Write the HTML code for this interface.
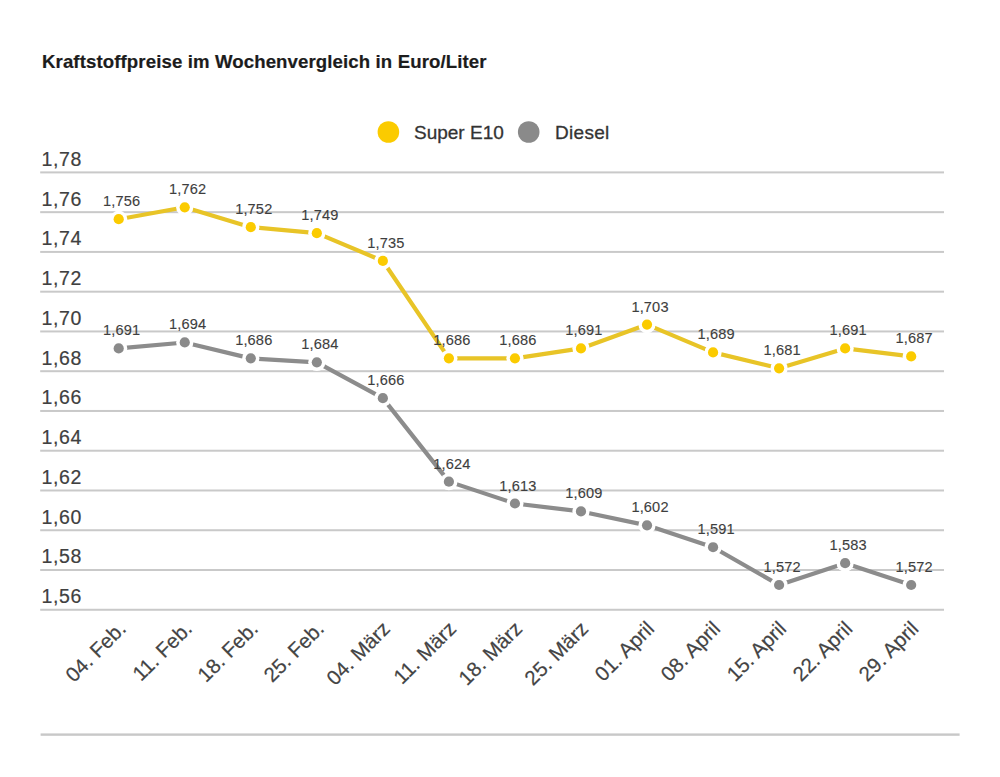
<!DOCTYPE html><html><head><meta charset="utf-8"><style>html,body{margin:0;padding:0;background:#fff;width:1000px;height:777px;overflow:hidden}svg{display:block}text{font-family:"Liberation Sans",sans-serif}</style></head><body>
<svg width="1000" height="777" viewBox="0 0 1000 777">
<rect width="1000" height="777" fill="#fff"/>
<text x="42" y="67.5" font-size="18.6" font-weight="bold" fill="#1c1c1c" letter-spacing="0.12" stroke="#1c1c1c" stroke-width="0.2">Kraftstoffpreise im Wochenvergleich in Euro/Liter</text>
<circle cx="388.4" cy="132" r="10.8" fill="#fbcb00"/>
<text x="414" y="139" font-size="19" fill="#333" stroke="#333" stroke-width="0.3">Super E10</text>
<circle cx="528.7" cy="132" r="10.8" fill="#8a8a8a"/>
<text x="555" y="139" font-size="19" fill="#333" stroke="#333" stroke-width="0.3" letter-spacing="0.3">Diesel</text>
<rect x="40.2" y="171.40" width="903.8" height="2" fill="#c9c9c9"/>
<text x="41.5" y="165.80" font-size="19.5" fill="#404040" stroke="#404040" stroke-width="0.2" letter-spacing="0.6">1,78</text>
<rect x="40.2" y="211.16" width="903.8" height="2" fill="#c9c9c9"/>
<text x="41.5" y="205.56" font-size="19.5" fill="#404040" stroke="#404040" stroke-width="0.2" letter-spacing="0.6">1,76</text>
<rect x="40.2" y="250.92" width="903.8" height="2" fill="#c9c9c9"/>
<text x="41.5" y="245.32" font-size="19.5" fill="#404040" stroke="#404040" stroke-width="0.2" letter-spacing="0.6">1,74</text>
<rect x="40.2" y="290.68" width="903.8" height="2" fill="#c9c9c9"/>
<text x="41.5" y="285.08" font-size="19.5" fill="#404040" stroke="#404040" stroke-width="0.2" letter-spacing="0.6">1,72</text>
<rect x="40.2" y="330.44" width="903.8" height="2" fill="#c9c9c9"/>
<text x="41.5" y="324.84" font-size="19.5" fill="#404040" stroke="#404040" stroke-width="0.2" letter-spacing="0.6">1,70</text>
<rect x="40.2" y="370.20" width="903.8" height="2" fill="#c9c9c9"/>
<text x="41.5" y="364.60" font-size="19.5" fill="#404040" stroke="#404040" stroke-width="0.2" letter-spacing="0.6">1,68</text>
<rect x="40.2" y="409.96" width="903.8" height="2" fill="#c9c9c9"/>
<text x="41.5" y="404.36" font-size="19.5" fill="#404040" stroke="#404040" stroke-width="0.2" letter-spacing="0.6">1,66</text>
<rect x="40.2" y="449.72" width="903.8" height="2" fill="#c9c9c9"/>
<text x="41.5" y="444.12" font-size="19.5" fill="#404040" stroke="#404040" stroke-width="0.2" letter-spacing="0.6">1,64</text>
<rect x="40.2" y="489.48" width="903.8" height="2" fill="#c9c9c9"/>
<text x="41.5" y="483.88" font-size="19.5" fill="#404040" stroke="#404040" stroke-width="0.2" letter-spacing="0.6">1,62</text>
<rect x="40.2" y="529.24" width="903.8" height="2" fill="#c9c9c9"/>
<text x="41.5" y="523.64" font-size="19.5" fill="#404040" stroke="#404040" stroke-width="0.2" letter-spacing="0.6">1,60</text>
<rect x="40.2" y="569.00" width="903.8" height="2" fill="#c9c9c9"/>
<text x="41.5" y="563.40" font-size="19.5" fill="#404040" stroke="#404040" stroke-width="0.2" letter-spacing="0.6">1,58</text>
<rect x="40.2" y="608.76" width="903.8" height="2" fill="#c9c9c9"/>
<text x="41.5" y="603.16" font-size="19.5" fill="#404040" stroke="#404040" stroke-width="0.2" letter-spacing="0.6">1,56</text>
<rect x="40.6" y="733.4" width="919" height="2.4" fill="#c8c8c8"/>
<polyline points="118.70,219.21 184.74,207.28 250.78,227.16 316.82,233.13 382.86,260.96 448.90,358.37 514.94,358.37 580.98,348.43 647.02,324.58 713.06,352.41 779.10,368.31 845.14,348.43 911.18,356.38" fill="none" stroke="#e8c427" stroke-width="4.2" stroke-linejoin="round" stroke-linecap="butt"/>
<circle cx="118.70" cy="219.21" r="8.6" fill="#fff"/>
<circle cx="118.70" cy="219.21" r="5.1" fill="#fbcb00"/>
<circle cx="184.74" cy="207.28" r="8.6" fill="#fff"/>
<circle cx="184.74" cy="207.28" r="5.1" fill="#fbcb00"/>
<circle cx="250.78" cy="227.16" r="8.6" fill="#fff"/>
<circle cx="250.78" cy="227.16" r="5.1" fill="#fbcb00"/>
<circle cx="316.82" cy="233.13" r="8.6" fill="#fff"/>
<circle cx="316.82" cy="233.13" r="5.1" fill="#fbcb00"/>
<circle cx="382.86" cy="260.96" r="8.6" fill="#fff"/>
<circle cx="382.86" cy="260.96" r="5.1" fill="#fbcb00"/>
<circle cx="448.90" cy="358.37" r="8.6" fill="#fff"/>
<circle cx="448.90" cy="358.37" r="5.1" fill="#fbcb00"/>
<circle cx="514.94" cy="358.37" r="8.6" fill="#fff"/>
<circle cx="514.94" cy="358.37" r="5.1" fill="#fbcb00"/>
<circle cx="580.98" cy="348.43" r="8.6" fill="#fff"/>
<circle cx="580.98" cy="348.43" r="5.1" fill="#fbcb00"/>
<circle cx="647.02" cy="324.58" r="8.6" fill="#fff"/>
<circle cx="647.02" cy="324.58" r="5.1" fill="#fbcb00"/>
<circle cx="713.06" cy="352.41" r="8.6" fill="#fff"/>
<circle cx="713.06" cy="352.41" r="5.1" fill="#fbcb00"/>
<circle cx="779.10" cy="368.31" r="8.6" fill="#fff"/>
<circle cx="779.10" cy="368.31" r="5.1" fill="#fbcb00"/>
<circle cx="845.14" cy="348.43" r="8.6" fill="#fff"/>
<circle cx="845.14" cy="348.43" r="5.1" fill="#fbcb00"/>
<circle cx="911.18" cy="356.38" r="8.6" fill="#fff"/>
<circle cx="911.18" cy="356.38" r="5.1" fill="#fbcb00"/>
<text x="121.70" y="206.21" font-size="14.6" text-anchor="middle" fill="#3e3e3e" stroke="#3e3e3e" stroke-width="0.12" letter-spacing="0.15">1,756</text>
<text x="187.74" y="194.28" font-size="14.6" text-anchor="middle" fill="#3e3e3e" stroke="#3e3e3e" stroke-width="0.12" letter-spacing="0.15">1,762</text>
<text x="253.78" y="214.16" font-size="14.6" text-anchor="middle" fill="#3e3e3e" stroke="#3e3e3e" stroke-width="0.12" letter-spacing="0.15">1,752</text>
<text x="319.82" y="220.13" font-size="14.6" text-anchor="middle" fill="#3e3e3e" stroke="#3e3e3e" stroke-width="0.12" letter-spacing="0.15">1,749</text>
<text x="385.86" y="247.96" font-size="14.6" text-anchor="middle" fill="#3e3e3e" stroke="#3e3e3e" stroke-width="0.12" letter-spacing="0.15">1,735</text>
<text x="451.90" y="345.37" font-size="14.6" text-anchor="middle" fill="#3e3e3e" stroke="#3e3e3e" stroke-width="0.12" letter-spacing="0.15">1,686</text>
<text x="517.94" y="345.37" font-size="14.6" text-anchor="middle" fill="#3e3e3e" stroke="#3e3e3e" stroke-width="0.12" letter-spacing="0.15">1,686</text>
<text x="583.98" y="335.43" font-size="14.6" text-anchor="middle" fill="#3e3e3e" stroke="#3e3e3e" stroke-width="0.12" letter-spacing="0.15">1,691</text>
<text x="650.02" y="311.58" font-size="14.6" text-anchor="middle" fill="#3e3e3e" stroke="#3e3e3e" stroke-width="0.12" letter-spacing="0.15">1,703</text>
<text x="716.06" y="339.41" font-size="14.6" text-anchor="middle" fill="#3e3e3e" stroke="#3e3e3e" stroke-width="0.12" letter-spacing="0.15">1,689</text>
<text x="782.10" y="355.31" font-size="14.6" text-anchor="middle" fill="#3e3e3e" stroke="#3e3e3e" stroke-width="0.12" letter-spacing="0.15">1,681</text>
<text x="848.14" y="335.43" font-size="14.6" text-anchor="middle" fill="#3e3e3e" stroke="#3e3e3e" stroke-width="0.12" letter-spacing="0.15">1,691</text>
<text x="914.18" y="343.38" font-size="14.6" text-anchor="middle" fill="#3e3e3e" stroke="#3e3e3e" stroke-width="0.12" letter-spacing="0.15">1,687</text>
<polyline points="118.70,348.43 184.74,342.47 250.78,358.37 316.82,362.35 382.86,398.13 448.90,481.63 514.94,503.50 580.98,511.45 647.02,525.36 713.06,547.23 779.10,585.00 845.14,563.14 911.18,585.00" fill="none" stroke="#8c8c8c" stroke-width="4.2" stroke-linejoin="round" stroke-linecap="butt"/>
<circle cx="118.70" cy="348.43" r="8.6" fill="#fff"/>
<circle cx="118.70" cy="348.43" r="5.1" fill="#8a8a8a"/>
<circle cx="184.74" cy="342.47" r="8.6" fill="#fff"/>
<circle cx="184.74" cy="342.47" r="5.1" fill="#8a8a8a"/>
<circle cx="250.78" cy="358.37" r="8.6" fill="#fff"/>
<circle cx="250.78" cy="358.37" r="5.1" fill="#8a8a8a"/>
<circle cx="316.82" cy="362.35" r="8.6" fill="#fff"/>
<circle cx="316.82" cy="362.35" r="5.1" fill="#8a8a8a"/>
<circle cx="382.86" cy="398.13" r="8.6" fill="#fff"/>
<circle cx="382.86" cy="398.13" r="5.1" fill="#8a8a8a"/>
<circle cx="448.90" cy="481.63" r="8.6" fill="#fff"/>
<circle cx="448.90" cy="481.63" r="5.1" fill="#8a8a8a"/>
<circle cx="514.94" cy="503.50" r="8.6" fill="#fff"/>
<circle cx="514.94" cy="503.50" r="5.1" fill="#8a8a8a"/>
<circle cx="580.98" cy="511.45" r="8.6" fill="#fff"/>
<circle cx="580.98" cy="511.45" r="5.1" fill="#8a8a8a"/>
<circle cx="647.02" cy="525.36" r="8.6" fill="#fff"/>
<circle cx="647.02" cy="525.36" r="5.1" fill="#8a8a8a"/>
<circle cx="713.06" cy="547.23" r="8.6" fill="#fff"/>
<circle cx="713.06" cy="547.23" r="5.1" fill="#8a8a8a"/>
<circle cx="779.10" cy="585.00" r="8.6" fill="#fff"/>
<circle cx="779.10" cy="585.00" r="5.1" fill="#8a8a8a"/>
<circle cx="845.14" cy="563.14" r="8.6" fill="#fff"/>
<circle cx="845.14" cy="563.14" r="5.1" fill="#8a8a8a"/>
<circle cx="911.18" cy="585.00" r="8.6" fill="#fff"/>
<circle cx="911.18" cy="585.00" r="5.1" fill="#8a8a8a"/>
<text x="121.70" y="335.43" font-size="14.6" text-anchor="middle" fill="#3e3e3e" stroke="#3e3e3e" stroke-width="0.12" letter-spacing="0.15">1,691</text>
<text x="187.74" y="329.47" font-size="14.6" text-anchor="middle" fill="#3e3e3e" stroke="#3e3e3e" stroke-width="0.12" letter-spacing="0.15">1,694</text>
<text x="253.78" y="345.37" font-size="14.6" text-anchor="middle" fill="#3e3e3e" stroke="#3e3e3e" stroke-width="0.12" letter-spacing="0.15">1,686</text>
<text x="319.82" y="349.35" font-size="14.6" text-anchor="middle" fill="#3e3e3e" stroke="#3e3e3e" stroke-width="0.12" letter-spacing="0.15">1,684</text>
<text x="385.86" y="385.13" font-size="14.6" text-anchor="middle" fill="#3e3e3e" stroke="#3e3e3e" stroke-width="0.12" letter-spacing="0.15">1,666</text>
<text x="451.90" y="468.63" font-size="14.6" text-anchor="middle" fill="#3e3e3e" stroke="#3e3e3e" stroke-width="0.12" letter-spacing="0.15">1,624</text>
<text x="517.94" y="490.50" font-size="14.6" text-anchor="middle" fill="#3e3e3e" stroke="#3e3e3e" stroke-width="0.12" letter-spacing="0.15">1,613</text>
<text x="583.98" y="498.45" font-size="14.6" text-anchor="middle" fill="#3e3e3e" stroke="#3e3e3e" stroke-width="0.12" letter-spacing="0.15">1,609</text>
<text x="650.02" y="512.36" font-size="14.6" text-anchor="middle" fill="#3e3e3e" stroke="#3e3e3e" stroke-width="0.12" letter-spacing="0.15">1,602</text>
<text x="716.06" y="534.23" font-size="14.6" text-anchor="middle" fill="#3e3e3e" stroke="#3e3e3e" stroke-width="0.12" letter-spacing="0.15">1,591</text>
<text x="782.10" y="572.00" font-size="14.6" text-anchor="middle" fill="#3e3e3e" stroke="#3e3e3e" stroke-width="0.12" letter-spacing="0.15">1,572</text>
<text x="848.14" y="550.14" font-size="14.6" text-anchor="middle" fill="#3e3e3e" stroke="#3e3e3e" stroke-width="0.12" letter-spacing="0.15">1,583</text>
<text x="914.18" y="572.00" font-size="14.6" text-anchor="middle" fill="#3e3e3e" stroke="#3e3e3e" stroke-width="0.12" letter-spacing="0.15">1,572</text>
<text x="127.20" y="630" font-size="20.5" text-anchor="end" fill="#444" stroke="#444" stroke-width="0.2" transform="rotate(-45 127.20 630)">04. Feb.</text>
<text x="193.24" y="630" font-size="20.5" text-anchor="end" fill="#444" stroke="#444" stroke-width="0.2" transform="rotate(-45 193.24 630)">11. Feb.</text>
<text x="259.28" y="630" font-size="20.5" text-anchor="end" fill="#444" stroke="#444" stroke-width="0.2" transform="rotate(-45 259.28 630)">18. Feb.</text>
<text x="325.32" y="630" font-size="20.5" text-anchor="end" fill="#444" stroke="#444" stroke-width="0.2" transform="rotate(-45 325.32 630)">25. Feb.</text>
<text x="391.36" y="630" font-size="20.5" text-anchor="end" fill="#444" stroke="#444" stroke-width="0.2" transform="rotate(-45 391.36 630)">04. März</text>
<text x="457.40" y="630" font-size="20.5" text-anchor="end" fill="#444" stroke="#444" stroke-width="0.2" transform="rotate(-45 457.40 630)">11. März</text>
<text x="523.44" y="630" font-size="20.5" text-anchor="end" fill="#444" stroke="#444" stroke-width="0.2" transform="rotate(-45 523.44 630)">18. März</text>
<text x="589.48" y="630" font-size="20.5" text-anchor="end" fill="#444" stroke="#444" stroke-width="0.2" transform="rotate(-45 589.48 630)">25. März</text>
<text x="655.52" y="630" font-size="20.5" text-anchor="end" fill="#444" stroke="#444" stroke-width="0.2" transform="rotate(-45 655.52 630)">01. April</text>
<text x="721.56" y="630" font-size="20.5" text-anchor="end" fill="#444" stroke="#444" stroke-width="0.2" transform="rotate(-45 721.56 630)">08. April</text>
<text x="787.60" y="630" font-size="20.5" text-anchor="end" fill="#444" stroke="#444" stroke-width="0.2" transform="rotate(-45 787.60 630)">15. April</text>
<text x="853.64" y="630" font-size="20.5" text-anchor="end" fill="#444" stroke="#444" stroke-width="0.2" transform="rotate(-45 853.64 630)">22. April</text>
<text x="919.68" y="630" font-size="20.5" text-anchor="end" fill="#444" stroke="#444" stroke-width="0.2" transform="rotate(-45 919.68 630)">29. April</text>
</svg></body></html>
